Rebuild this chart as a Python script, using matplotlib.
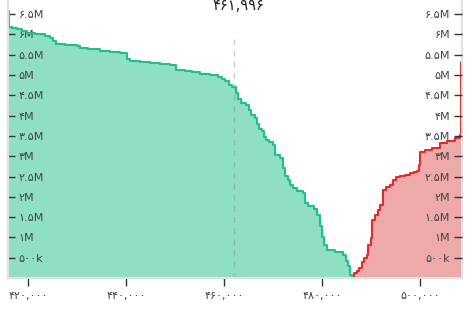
import matplotlib
matplotlib.use('Agg')
import matplotlib.pyplot as plt

# bids (green) - price, cumulative volume in millions
bid_prices = [415000, 416050, 416700, 417800, 418800, 419800, 421400, 423500, 424500,
              425100, 425700, 427600, 430000, 430600, 432200, 434700, 436700, 438800,
              440200, 440800, 442900, 444900, 446900, 449000, 450200, 452000, 453500,
              455100, 457100, 458800, 459600, 460200, 461000, 461600, 462400, 462900,
              463500, 464500, 465100, 465500, 466300, 466700, 467100, 467800, 468200,
              468600, 469200, 470000, 470400, 471400, 472000, 472400, 473100, 473500,
              474100, 474900, 476100, 476500, 477100, 478400, 479000, 479600, 480000,
              480400, 481000, 482700, 484300, 484900, 485300, 485700, 486100]
bid_depth = [6.58, 6.19, 6.17, 6.13, 6.08, 6.03, 6.00, 5.96, 5.91,
             5.84, 5.76, 5.74, 5.71, 5.67, 5.64, 5.59, 5.57, 5.54,
             5.39, 5.34, 5.32, 5.30, 5.27, 5.25, 5.12, 5.10, 5.07,
             5.02, 5.00, 4.95, 4.90, 4.85, 4.75, 4.70, 4.56, 4.41,
             4.31, 4.27, 4.14, 4.01, 3.94, 3.79, 3.67, 3.62, 3.48,
             3.40, 3.35, 3.28, 3.03, 2.96, 2.71, 2.51, 2.41, 2.29,
             2.22, 2.14, 2.09, 1.85, 1.77, 1.70, 1.55, 1.28, 1.00,
             0.81, 0.69, 0.64, 0.57, 0.42, 0.30, 0.07, 0.0]

# asks (red)
ask_prices = [486100, 486500, 487100, 487500, 488200, 488600, 489200, 489400, 490000,
              490200, 490800, 491400, 491800, 492400, 493100, 493900, 494500, 495100,
              495900, 496900, 497900, 498800, 499400, 499800, 500000, 501000, 502400,
              504100, 505500, 507100, 508200, 508450, 509000]
ask_depth = [0.0, 0.12, 0.17, 0.24, 0.39, 0.49, 0.57, 0.81, 0.98,
             1.43, 1.55, 1.67, 1.80, 2.17, 2.24, 2.29, 2.41, 2.49,
             2.51, 2.54, 2.59, 2.61, 2.64, 2.79, 3.10, 3.15, 3.20,
             3.33, 3.38, 3.45, 3.52, 5.32, 5.32]

mid_price = 461996
mid_label = '۴۶۱,۹۹۶'

y_ticks = [0.5, 1, 1.5, 2, 2.5, 3, 3.5, 4, 4.5, 5, 5.5, 6, 6.5]
y_labels = ['۵۰۰k', '۱M', '۱.۵M', '۲M', '۲.۵M', '۳M', '۳.۵M', '۴M', '۴.۵M', '۵M', '۵.۵M', '۶M', '۶.۵M']
x_ticks = [420000, 440000, 460000, 480000, 500000]
x_labels = ['۴۲۰,۰۰۰', '۴۴۰,۰۰۰', '۴۶۰,۰۰۰', '۴۸۰,۰۰۰', '۵۰۰,۰۰۰']

bid_vals = [v * 1e6 for v in bid_depth]
ask_vals = [v * 1e6 for v in ask_depth]

fig = plt.figure(figsize=(4.72, 3.10), dpi=100)
ax = fig.add_axes([8 / 472, 32 / 310, 454 / 472, 278 / 310])

ax.fill_between(bid_prices, bid_vals, step='post', color='#8fe0c3', lw=0)
ax.step(bid_prices, bid_vals, where='post', color='#1fc286', lw=1.5)
ax.fill_between(ask_prices, ask_vals, step='post', color='#eeaaaa', lw=0)
ax.step(ask_prices, ask_vals, where='post', color='#e02c2c', lw=1.5)

ax.axvline(mid_price, ymax=0.875, color='#8a8a8a', lw=1, dashes=(4, 4), alpha=0.45)
fig.text(238 / 472, 1 - 6 / 310, mid_label, ha='center', va='center', fontsize=10.5, color='#222')

ax.set_xlim(415918, 508571)
ax.set_ylim(0, 6.85e6)

for s in ['left', 'bottom', 'right']:
    ax.spines[s].set_color('#e2e2e2')
    ax.spines[s].set_linewidth(1.5)
ax.spines['top'].set_visible(False)

ax.set_xticks(x_ticks)
ax.set_xticklabels(x_labels, fontsize=8, color='#444')
ax.tick_params(axis='x', direction='out', length=6, width=1, color='#333', pad=3)

ax.set_yticks([v * 1e6 for v in y_ticks])
ax.set_yticklabels(y_labels, fontsize=8, color='#444')
ax.tick_params(axis='y', direction='in', length=5, width=1, color='#333', pad=-7.5)
plt.setp(ax.get_yticklabels(), ha='left')

ax2 = ax.twinx()
ax2.set_ylim(ax.get_ylim())
for s in ax2.spines.values():
    s.set_visible(False)
ax2.set_yticks([v * 1e6 for v in y_ticks])
ax2.set_yticklabels(y_labels, fontsize=8, color='#444')
ax2.tick_params(axis='y', direction='in', length=6, width=1, color='#333', pad=-8.5)
plt.setp(ax2.get_yticklabels(), ha='right')

fig.savefig('out.png', dpi=100)
